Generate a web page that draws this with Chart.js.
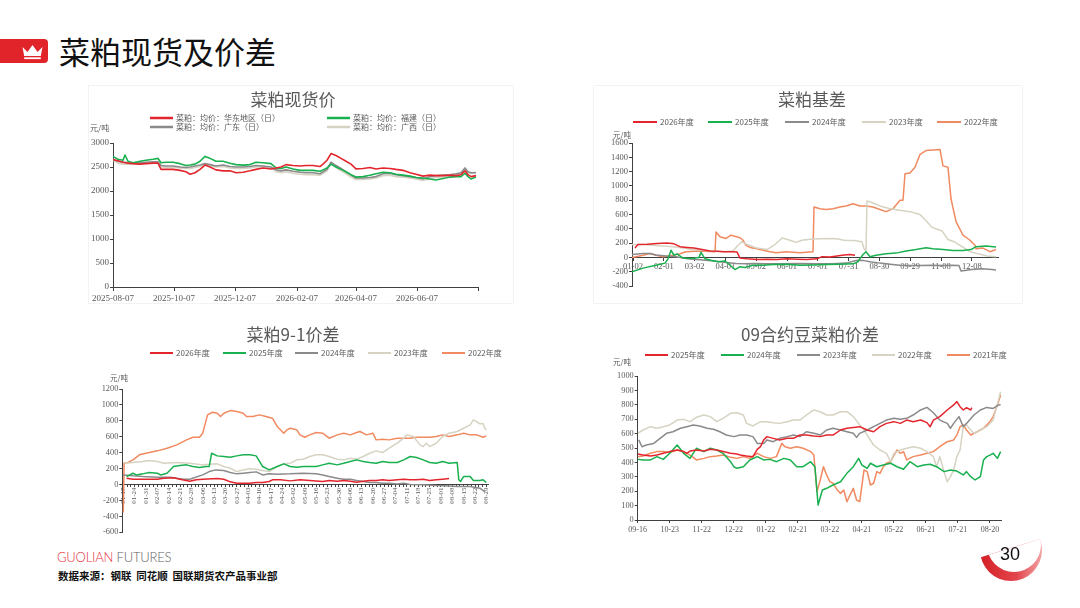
<!DOCTYPE html>
<html><head><meta charset="utf-8">
<script src="https://cdn.jsdelivr.net/npm/chart.js@4.4.1/dist/chart.umd.min.js"></script>
<style>
html,body{margin:0;padding:0;background:#fff;width:1080px;height:608px;overflow:hidden;font-family:"Noto Sans CJK SC",sans-serif;}
.abs{position:absolute;}
canvas{position:absolute;}
.panel{position:absolute;border:1px solid #f3f3f3;box-sizing:border-box;}
</style></head><body>
<div class="abs" style="left:0;top:39px;width:48px;height:24px;background:#e0242a;border-radius:0 4px 4px 0;"></div>
<svg class="abs" style="left:22px;top:44px" width="21" height="16" viewBox="0 0 21 16">
  <path d="M0.5 3 L5.5 8 L10.5 1 L15.5 8 L20.5 3 L18.8 12 L2.2 12 Z" fill="#fff"/>
  <rect x="2.2" y="13.3" width="16.6" height="1.8" fill="#fff"/>
</svg>
<div class="abs" style="left:59px;top:36px;font-size:31px;line-height:30px;color:#111;white-space:nowrap;">菜粕现货及价差</div>

<div class="panel" style="left:88px;top:85px;width:426px;height:219px;"></div>
<div class="panel" style="left:593px;top:85px;width:430px;height:219px;"></div>

<canvas id="c1" width="430" height="220" style="left:90px;top:85px"></canvas>
<canvas id="c2" width="420" height="215" style="left:600px;top:85px"></canvas>
<canvas id="c3" width="420" height="220" style="left:90px;top:320px"></canvas>
<canvas id="c4" width="420" height="220" style="left:600px;top:320px"></canvas>

<div class="abs" style="left:57px;top:548px;font-family:Lato,'Open Sans',sans-serif;font-size:13px;line-height:18px;letter-spacing:-0.2px;white-space:nowrap;font-weight:300;"><span style="color:#e5323a">GUOLIAN</span> <span style="color:#5f5f5f">FUTURES</span></div>
<div class="abs" style="left:58px;top:569px;font-size:10.5px;line-height:14px;font-weight:bold;color:#111;white-space:nowrap;">数据来源：钢联&nbsp;&nbsp;同花顺&nbsp;&nbsp;国联期货农产品事业部</div>

<svg class="abs" style="left:975px;top:515px" width="75" height="75">
  <defs>
    <linearGradient id="g" x1="0" y1="0" x2="1" y2="0">
      <stop offset="0" stop-color="#d41f27"/><stop offset="0.6" stop-color="#e2474c"/><stop offset="1" stop-color="#f3a3a5"/>
    </linearGradient>
    <clipPath id="cp"><polygon points="0,44 75,21 75,75 0,75"/></clipPath>
  </defs>
  <g clip-path="url(#cp)">
    <circle cx="36" cy="35" r="31" fill="url(#g)"/>
    <circle cx="39" cy="30" r="27" fill="#fff"/>
  </g>
</svg>
<div class="abs" style="left:990px;top:543px;width:40px;text-align:center;font-family:'Liberation Sans',Arial,sans-serif;font-size:18px;line-height:22px;color:#111;">30</div>

<script>
// ---------- Chart 1: 菜粕现货价 ----------
const c1Days = [0,5,10,12,15,20,27,33,40,45,48,53,60,67,73,77,82,87,92,97,103,110,117,123,130,137,143,150,158,163,168,173,180,187,193,200,207,210,214,218,223,228,233,238,243,250,257,263,270,277,283,290,297,303,310,317,323,330,337,343,348,352,355,358,363];
const c1East = [2650,2630,2600,2590,2580,2570,2560,2570,2580,2580,2450,2450,2450,2430,2400,2350,2380,2450,2540,2500,2440,2420,2420,2380,2390,2420,2450,2480,2460,2480,2500,2550,2530,2520,2530,2530,2510,2560,2640,2780,2740,2680,2620,2560,2460,2470,2490,2460,2480,2470,2450,2430,2380,2350,2310,2330,2320,2320,2330,2320,2340,2420,2340,2300,2320];
const c1Fujian = [2720,2660,2640,2750,2620,2590,2620,2640,2660,2680,2590,2600,2600,2570,2530,2540,2560,2620,2720,2680,2620,2620,2580,2550,2540,2550,2600,2590,2570,2480,2470,2500,2460,2430,2430,2430,2410,2440,2480,2560,2500,2450,2400,2340,2290,2300,2330,2360,2390,2380,2350,2330,2310,2280,2270,2250,2230,2260,2290,2300,2300,2370,2300,2250,2290];
const c1Guangdong = [2660,2620,2600,2600,2590,2580,2590,2600,2610,2610,2530,2520,2520,2500,2490,2500,2520,2540,2570,2550,2520,2540,2510,2500,2500,2510,2530,2520,2500,2440,2420,2440,2410,2390,2380,2380,2360,2400,2450,2600,2530,2470,2400,2330,2270,2270,2280,2300,2360,2370,2340,2320,2300,2280,2250,2300,2320,2330,2340,2360,2380,2480,2400,2380,2380];
const c1Guangxi = [2640,2580,2560,2560,2560,2560,2570,2580,2590,2590,2500,2490,2490,2480,2470,2470,2490,2510,2540,2520,2500,2510,2480,2470,2470,2480,2500,2500,2480,2400,2380,2400,2370,2350,2340,2340,2330,2370,2420,2580,2490,2420,2360,2290,2240,2240,2250,2270,2320,2330,2300,2290,2270,2250,2220,2250,2280,2300,2320,2330,2350,2450,2380,2370,2390];
const c1TickDays = [0,61,122,184,243,304,365];
const c1TickLabels = ['2025-08-07','2025-10-07','2025-12-07','2026-02-07','2026-04-07','2026-06-07',''];
const c1Names = ['菜粕：均价：华东地区（日）','菜粕：均价：福建（日）','菜粕：均价：广东（日）','菜粕：均价：广西（日）'];

// ---------- Chart 2: 菜粕基差 ----------
const c2Labels = ['01-02','02-01','03-02','04-01','05-02','06-01','07-01','07-31','08-30','09-29','11-08','12-08'];
const c2Years = ['2026年度','2025年度','2024年度','2023年度','2022年度'];
const c2X2026 = [3,6,15,25,35,42,48,55,62,70,78,85,92,100,105,108,115,125,135,145,155,165,175,185,190,198,205,212,218,223];
const c2Y2026 = [130,180,185,195,200,190,150,140,130,110,90,85,80,80,75,-10,-20,-30,-25,-30,-20,-25,-30,-20,10,5,20,35,40,30];
const c2X2025 = [0,11,24,33,36,39,42,45,51,59,67,69,73,79,86,93,99,103,108,113,121,131,141,154,168,181,194,208,221,226,231,234,238,244,254,264,274,284,294,301,311,321,331,339,344,354,364];
const c2Y2025 = [-200,-150,-110,-80,-20,100,30,50,-10,-15,0,70,-20,-40,-60,-50,-120,-170,-130,-140,-110,-110,-100,-95,-110,-105,-100,-95,-90,-60,40,80,10,30,50,60,90,110,135,120,110,95,95,110,150,160,145];
const c2X2024 = [0,11,18,24,34,44,54,64,74,84,94,104,114,124,134,150,168,184,200,214,225,232,238,248,258,268,278,288,300,310,320,327,329,340,350,360,364];
const c2Y2024 = [40,55,55,35,20,10,-15,-30,-40,-55,-70,-85,-90,-85,-90,-90,-85,-90,-90,-80,-40,-45,-60,-80,-95,-110,-115,-115,-110,-115,-110,-115,-190,-170,-160,-170,-175];
const c2X2023 = [0,11,21,31,41,51,61,71,81,91,101,106,110,115,125,135,143,150,158,164,170,178,188,198,205,212,222,230,232,234,235,241,248,258,268,278,288,295,300,306,310,316,322,330,338,346,355,364];
const c2Y2023 = [180,180,170,160,150,130,110,100,90,80,90,170,220,180,130,110,180,270,240,210,240,255,260,265,260,240,235,220,120,90,790,760,720,680,660,640,600,500,420,390,370,250,220,150,80,50,20,10];
const c2X2022 = [0,11,18,24,31,41,48,54,68,83,84,88,94,99,108,111,114,118,124,131,138,144,154,168,181,182,188,194,201,208,214,221,228,234,241,248,254,261,268,271,273,278,283,288,294,308,311,316,319,324,331,338,343,344,351,358,364];
const c2Y2022 = [0,30,55,30,10,30,50,80,90,80,355,290,265,310,275,240,170,140,125,100,80,65,80,65,80,705,680,670,680,705,720,750,720,720,705,670,640,680,800,800,1170,1180,1260,1440,1495,1510,1280,1260,820,500,310,240,170,120,130,80,110];

// ---------- Chart 3: 菜粕9-1价差 ----------
const c3Labels = ['01-17','01-24','01-31','02-07','02-14','02-21','02-28','03-06','03-13','03-20','03-27','04-03','04-10','04-17','04-24','05-02','05-09','05-16','05-23','05-30','06-06','06-13','06-20','06-27','07-04','07-11','07-18','07-25','08-01','08-08','08-15','08-22','08-29'];
const c3Years = ['2026年度','2025年度','2024年度','2023年度','2022年度'];
const c3X2026 = [2,6,12,21,25,31,35,41,45,49,58,62,66,70,74,78,82,86,90,92,97,103,109,115,123,127,132,136,140,144,148,152,156,160,164,169,173,177,181,185,189,193,197,201];
const c3Y2026 = [80,67,67,67,80,84,67,42,59,67,75,67,34,17,17,17,25,25,38,59,59,46,59,50,38,50,42,50,42,29,42,50,50,59,50,59,67,59,59,67,50,59,67,75];
const c3X2025 = [2,6,8,12,16,21,23,27,31,35,39,43,47,51,53,54.5,58,62,66,70,74,78,82,86,90,95,99,103,107,111,115,119,123,127,132,136,140,144,148,152,156,160,164,169,173,177,181,185,189,193,197,201,206,207,208,210,214,216,220,222,224];
const c3Y2025 = [100,142,121,134,151,142,121,142,226,239,247,226,213,226,226,393,360,352,343,360,373,373,360,226,184,226,260,226,218,226,226,226,247,268,247,268,289,310,289,276,268,289,276,276,310,352,339,310,276,268,289,268,276,59,38,100,100,50,50,59,25];
const c3X2024 = [0,6,12,21,29,37,41,49,53,57,62,66,70,74,78,82,86,90,95,103,111,119,123,127,132,136,140,144,148,152,156,160,164,169,173,177,185,193,201,206,214,220,223];
const c3Y2024 = [121,109,100,92,92,67,67,121,163,184,176,151,134,142,151,159,121,134,130,134,142,134,121,100,80,67,67,50,38,25,25,17,17,8,17,0,-4,-13,-17,-25,-25,-46,-88];
const c3X2023 = [0.6,6,12,16,21,25,33,41,49,58,62,66,70,74,78,82,86,90,95,99,103,107,111,115,119,123,127,132,136,140,144,148,152,156,160,164,169,173,175,179,183,185,187,189,193,197,201,206,210,214,216,218,220,222,223,224];
const c3Y2023 = [268,276,289,301,289,268,276,268,247,260,226,205,163,184,197,193,176,163,226,260,268,310,318,352,373,373,352,318,310,331,318,352,393,423,402,456,519,582,624,603,498,477,519,477,519,603,645,666,707,749,812,791,762,762,707,686];
const c3X2022 = [0,0.5,2,6,10,14,21,27,33,37,39,43,47,49,52,55,58,60,62,66,70,74,76,80,84,88,92,95,99,101,103,107,109,112,115,119,123,127,132,136,140,144,146,150,154,156,160,164,169,173,177,181,185,189,193,197,201,206,210,214,218,222,224];
const c3Y2022 = [-350,270,268,310,373,393,423,456,498,540,561,594,594,645,875,908,896,854,896,929,917,896,854,854,875,854,833,728,645,687,707,687,624,594,624,653,645,582,624,645,624,653,666,624,645,561,569,561,582,582,582,594,594,594,603,624,603,624,645,624,624,594,611];

// ---------- Chart 4: 09合约豆菜粕价差 ----------
const c4Labels = ['09-16','10-23','11-22','12-22','01-22','02-21','03-22','04-21','05-22','06-21','07-21','08-20'];
const c4Years = ['2025年度','2024年度','2023年度','2022年度','2021年度'];
const c4X2025 = [0,5,12,18,24,30,37,43,46,49,55,62,68,74,80,87,93,96,102,108,112,115,118,121,127,133,140,146,152,158,165,171,177,183,190,196,202,208,215,221,227,233,240,246,252,258,265,271,274,277,283,290,296,299,302,305,308,312,313];
const c4Y2025 = [458,451,444,451,463,475,486,475,463,479,486,479,491,486,475,463,458,451,444,440,491,509,556,579,567,556,567,567,590,590,583,579,590,590,625,637,643,648,625,613,648,671,683,671,694,683,694,676,648,694,718,764,799,822,787,764,780,764,780];
const c4X2024 = [0,5,12,18,24,30,37,43,49,55,62,68,74,80,87,90,93,99,105,112,118,124,130,137,143,149,155,162,166,169,173,177,183,190,196,202,207,210,215,218,224,230,237,243,249,255,262,268,274,280,287,293,299,305,308,312,316,321,324,327,330,333,337,340];
const c4Y2024 = [421,417,417,440,421,463,521,463,428,498,475,498,486,463,405,370,359,370,417,440,417,421,405,428,417,370,370,405,370,104,208,220,243,266,324,370,428,382,359,394,370,382,394,370,352,405,370,382,387,370,336,347,340,313,336,301,278,301,417,440,451,463,428,475];
const c4X2023 = [1,4,8,15,21,27,33,40,46,52,58,65,71,77,83,90,96,102,108,112,118,121,127,133,140,146,152,158,165,171,177,183,190,196,202,205,208,215,221,227,233,240,246,252,258,265,271,277,283,290,293,296,301,305,308,315,321,327,333,338,340];
const c4Y2023 = [556,509,521,532,567,602,613,637,648,660,653,637,630,613,590,579,590,590,579,532,532,556,544,567,579,590,579,613,602,590,625,637,625,613,602,574,602,625,648,671,694,706,699,706,729,764,782,745,694,671,637,671,718,648,671,729,764,782,775,799,800];
const c4X2022 = [0,5,12,18,24,30,37,43,49,55,62,68,74,80,87,93,99,102,108,115,121,127,133,140,146,152,158,165,171,177,183,190,196,202,208,212,215,221,227,233,237,240,246,252,258,265,271,277,280,283,287,290,293,296,299,302,305,308,312,315,321,327,333,340];
const c4Y2022 = [602,625,648,637,648,660,694,699,683,713,729,718,683,706,741,745,729,671,653,683,683,676,671,683,694,694,729,764,752,729,729,752,752,718,660,625,590,521,486,463,405,463,486,498,509,498,475,440,370,440,336,266,301,347,440,486,648,660,625,602,625,648,694,891];
const c4X2021 = [0,5,12,18,24,30,37,43,49,55,62,68,74,80,87,93,99,105,112,118,124,130,135,138,143,149,155,162,165,168,171,174,177,180,183,187,190,193,196,199,202,205,208,212,215,218,221,224,227,230,233,237,240,243,246,249,252,258,265,271,277,283,290,296,299,302,305,308,312,318,324,330,333,337,340];
const c4Y2021 = [440,444,463,475,475,468,486,475,451,417,428,440,444,451,435,428,440,428,463,440,428,440,532,509,498,509,498,475,451,197,278,370,313,266,255,208,185,208,127,174,220,139,127,347,336,243,255,336,324,370,394,405,451,486,463,475,417,440,451,463,475,509,544,556,590,648,660,625,590,613,637,683,718,799,868];

// ---------- styling ----------
const RED='#e3262d', GREEN='#19b04f', GRAY='#8a8a8a', BEIGE='#d6d3c2', ORANGE='#f18a60';
const AXIS='#404040', TXT='#595959';
const CJK="'Noto Sans CJK SC', sans-serif";
Chart.defaults.font.family = "'Liberation Serif', serif";
Chart.defaults.color = TXT;
Chart.defaults.animation = false;

function pts(xs, ys){ return xs.map((x,i)=>({x:x, y:ys[i]})); }
function ds(label, color, xs, ys, w){ return {label:label, data:pts(xs,ys), borderColor:color, backgroundColor:color, borderWidth:w||1.5, pointRadius:0, tension:0, fill:false, borderJoinStyle:'round'}; }

// title, series key and unit label drawn at fixed spots of each canvas
const decor = {
  id:'decor',
  afterDraw(chart, args, o){
    const ctx = chart.ctx;
    ctx.save();
    ctx.textBaseline='middle';
    ctx.textAlign='center';
    ctx.font = "17px " + CJK; ctx.fillStyle = TXT;
    ctx.fillText(o.title, o.titleAt[0], o.titleAt[1]);
    ctx.textAlign='left';
    ctx.font = o.font;
    chart.data.datasets.forEach((d,i)=>{
      const p = o.keys[i];
      ctx.strokeStyle = d.borderColor; ctx.lineWidth = o.keyWidth;
      ctx.beginPath(); ctx.moveTo(p[0], p[1]); ctx.lineTo(p[0]+o.keyLen, p[1]); ctx.stroke();
      ctx.fillText(d.label, p[0]+o.keyLen+3, p[1]);
    });
    ctx.font = o.unitFont;
    ctx.fillText('元/吨', o.unitAt[0], o.unitAt[1]);
    ctx.restore();
  }
};

function yAxis(min,max,step,width,fs){
  return {type:'linear', min:min, max:max,
    ticks:{stepSize:step, font:{size:fs}, color:TXT, padding:1, callback:v=>String(v)},
    grid:{display:true, drawOnChartArea:false, drawTicks:true, tickLength:3, color:AXIS},
    border:{display:true, color:AXIS, width:1},
    afterFit(a){ a.width = width; }};
}

// Chart 1
new Chart(document.getElementById('c1'), {
  type:'line',
  data:{datasets:[
    ds(c1Names[0], RED, c1Days, c1East, 1.6),
    ds(c1Names[1], GREEN, c1Days, c1Fujian, 1.6),
    ds(c1Names[2], GRAY, c1Days, c1Guangdong, 1.6),
    ds(c1Names[3], BEIGE, c1Days, c1Guangxi, 1.6)
  ]},
  options:{responsive:false, animation:false,
    layout:{padding:{left:0, right:42, top:58, bottom:0}},
    plugins:{legend:{display:false}, tooltip:{enabled:false}, title:{display:false},
      decor:{title:'菜粕现货价', titleAt:[203,15], keys:[[60,33],[237,33],[60,42],[237,42]], keyLen:23, keyWidth:2.5, font:"8px "+CJK, unitFont:"8px "+CJK, unitAt:[0,43]}},
    scales:{
      x:{type:'linear', min:0, max:365,
        afterBuildTicks(a){ a.ticks = c1TickDays.map(v=>({value:v})); },
        ticks:{autoSkip:false, maxRotation:0, minRotation:0, font:{size:9}, color:TXT, padding:2,
          callback:(v,i)=>c1TickLabels[i]},
        grid:{display:true, drawOnChartArea:false, drawTicks:true, tickLength:4, color:AXIS},
        border:{display:true, color:AXIS, width:1},
        afterFit(a){ a.height = 18; }},
      y:yAxis(0,3000,500,23,9)
    }},
  plugins:[decor]
});

// Chart 2
new Chart(document.getElementById('c2'), {
  type:'line',
  data:{datasets:[
    ds(c2Years[0], RED, c2X2026, c2Y2026),
    ds(c2Years[1], GREEN, c2X2025, c2Y2025),
    ds(c2Years[2], GRAY, c2X2024, c2Y2024),
    ds(c2Years[3], BEIGE, c2X2023, c2Y2023),
    ds(c2Years[4], ORANGE, c2X2022, c2Y2022)
  ]},
  options:{responsive:false, animation:false,
    layout:{padding:{left:10, right:22, top:58, bottom:14}},
    plugins:{legend:{display:false}, tooltip:{enabled:false}, title:{display:false},
      decor:{title:'菜粕基差', titleAt:[212,15], keys:[[33,37],[108,37],[185,37],[262,37],[337,37]], keyLen:24, keyWidth:2, font:"8px "+CJK, unitFont:"7.5px "+CJK, unitAt:[13,50]}},
    scales:{
      x:{type:'linear', min:0, max:366, position:{y:0},
        afterBuildTicks(a){ a.ticks = c2Labels.map((l,k)=>({value:1+k*30.8})); },
        ticks:{autoSkip:false, maxRotation:0, minRotation:0, font:{size:8.5}, color:TXT, padding:1,
          callback:(v,i)=>c2Labels[i]},
        grid:{display:true, drawOnChartArea:false, drawTicks:true, tickLength:3, color:AXIS},
        border:{display:true, color:AXIS, width:1},
        afterFit(a){ a.height = 0; }},
      y:yAxis(-400,1600,200,22,8.5)
    }},
  plugins:[decor]
});

// Chart 3
new Chart(document.getElementById('c3'), {
  type:'line',
  data:{datasets:[
    ds(c3Years[0], RED, c3X2026, c3Y2026),
    ds(c3Years[1], GREEN, c3X2025, c3Y2025),
    ds(c3Years[2], GRAY, c3X2024, c3Y2024),
    ds(c3Years[3], BEIGE, c3X2023, c3Y2023),
    ds(c3Years[4], ORANGE, c3X2022, c3Y2022)
  ]},
  options:{responsive:false, animation:false,
    layout:{padding:{left:8.3, right:22, top:69, bottom:7.7}},
    plugins:{legend:{display:false}, tooltip:{enabled:false}, title:{display:false},
      decor:{title:'菜粕9-1价差', titleAt:[203,15], keys:[[60,33],[133,33],[205,33],[278,33],[352,33]], keyLen:23, keyWidth:2, font:"8px "+CJK, unitFont:"7.5px "+CJK, unitAt:[20,58]}},
    scales:{
      x:{type:'linear', min:-0.6, max:225, position:{y:0},
        afterBuildTicks(a){ const t=[]; for(let k=0;k<=(c3Labels.length-1)*3;k++){ t.push({value:k*7/3}); } a.ticks=t; },
        ticks:{autoSkip:false, maxRotation:90, minRotation:90, font:{size:7}, color:TXT, padding:1,
          callback:(v,i)=> (i%3===0 ? c3Labels[i/3] : '')},
        grid:{display:true, drawOnChartArea:false, drawTicks:true, tickLength:2, color:AXIS},
        border:{display:true, color:AXIS, width:1},
        afterFit(a){ a.height = 0; }},
      y:yAxis(-600,1200,200,24,8.3)
    }},
  plugins:[decor]
});

// Chart 4
new Chart(document.getElementById('c4'), {
  type:'line',
  data:{datasets:[
    ds(c4Years[0], RED, c4X2025, c4Y2025),
    ds(c4Years[1], GREEN, c4X2024, c4Y2024),
    ds(c4Years[2], GRAY, c4X2023, c4Y2023),
    ds(c4Years[3], BEIGE, c4X2022, c4Y2022),
    ds(c4Years[4], ORANGE, c4X2021, c4Y2021)
  ]},
  options:{responsive:false, animation:false,
    layout:{padding:{left:15.7, right:18.3, top:56, bottom:0}},
    plugins:{legend:{display:false}, tooltip:{enabled:false}, title:{display:false},
      decor:{title:'09合约豆菜粕价差', titleAt:[210,15], keys:[[45,35],[121,35],[197,35],[272,35],[347,35]], keyLen:23, keyWidth:2, font:"8px "+CJK, unitFont:"7.5px "+CJK, unitAt:[13,42]}},
    scales:{
      x:{type:'linear', min:0, max:341,
        afterBuildTicks(a){ a.ticks = c4Labels.map((l,k)=>({value:k*30})); },
        ticks:{autoSkip:false, maxRotation:0, minRotation:0, font:{size:8}, color:TXT, padding:2,
          callback:(v,i)=>c4Labels[i]},
        grid:{display:true, drawOnChartArea:false, drawTicks:true, tickLength:3, color:AXIS},
        border:{display:true, color:AXIS, width:1},
        afterFit(a){ a.height = 20; }},
      y:yAxis(0,1000,100,22,8.3)
    }},
  plugins:[decor]
});
</script>
</body></html>
